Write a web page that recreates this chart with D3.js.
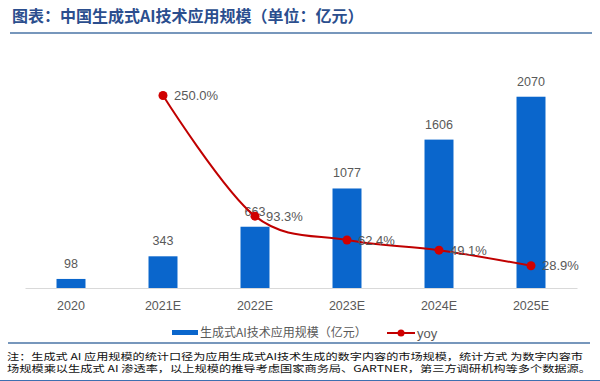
<!DOCTYPE html>
<html>
<head>
<meta charset="utf-8">
<script src="https://cdn.jsdelivr.net/npm/d3@7"></script>
<style>
  body { margin: 0; background: #fff; }
  svg { display: block; }
</style>
</head>
<body>
<script>
/*chart data*/
var categories = ["2020", "2021E", "2022E", "2023E", "2024E", "2025E"];
var scaleValues = [98, 343, 663, 1077, 1606, 2070];
var yoyValues = [null, 250.0, 93.3, 62.4, 49.1, 28.9];
var titleText = "图表：中国生成式AI技术应用规模（单位：亿元）";
var barLegend = "生成式AI技术应用规模（亿元）";
var lineLegend = "yoy";
var notes = [
  "注：生成式 AI 应用规模的统计口径为应用生成式AI技术生成的数字内容的市场规模，统计方式 为数字内容市",
  "场规模乘以生成式 AI 渗透率，以上规模的推导考虑国家商务局、GARTNER，第三方调研机构等多个数据源。"
];

var width = 600, height = 381;
var cjk = "'Noto Sans CJK SC', 'Noto Sans', sans-serif";
var latin = "'Liberation Sans', Arial, sans-serif";
var textColor = "#595959";

var svg = d3.select("body").append("svg")
  .attr("width", width)
  .attr("height", height);

/*title and underline*/
svg.append("text")
  .attr("x", 12)
  .attr("y", 22)
  .style("font-family", cjk)
  .style("font-size", "16px")
  .style("font-weight", "bold")
  .style("fill", "#2b4e8e")
  .text(titleText);

svg.append("line")
  .attr("x1", 10).attr("x2", 592)
  .attr("y1", 33).attr("y2", 33)
  .attr("stroke", "#4a74a6")
  .attr("stroke-width", 1.5);

/*scales*/
var x = d3.scaleBand()
  .domain(categories)
  .range([25, 577])
  .paddingInner(0.685)
  .paddingOuter(0.3425);

var yLeft = d3.scaleLinear().domain([0, 2500]).range([288, 57]);
var yRight = d3.scaleLinear().domain([0, 300]).range([288, 57]);

/*bars*/
svg.selectAll(".bar")
  .data(categories)
  .enter()
  .append("rect")
    .attr("class", "bar")
    .attr("x", d => x(d))
    .attr("y", (d, i) => yLeft(scaleValues[i]))
    .attr("width", x.bandwidth())
    .attr("height", (d, i) => yLeft(0) - yLeft(scaleValues[i]))
    .style("fill", "#0a66cc");

/*x axis*/
var xAxis = svg.append("g")
  .attr("transform", `translate(0, ${yLeft(0)})`)
  .call(d3.axisBottom(x).tickSize(0).tickPadding(13));
xAxis.select(".domain").attr("stroke", "#d9d9d9");
xAxis.selectAll("text")
  .style("font-family", latin)
  .style("font-size", "12.5px")
  .style("fill", textColor);

/*bar value labels*/
svg.selectAll(".barLabel")
  .data(categories)
  .enter()
  .append("text")
    .attr("class", "barLabel")
    .attr("x", d => x(d) + x.bandwidth() / 2)
    .attr("y", (d, i) => yLeft(scaleValues[i]) - 11)
    .attr("text-anchor", "middle")
    .style("font-family", latin)
    .style("font-size", "12.5px")
    .style("fill", textColor)
    .text((d, i) => scaleValues[i]);

/*yoy line*/
var yoyData = categories
  .map((c, i) => ({cat: c, v: yoyValues[i]}))
  .filter(d => d.v != null);

var line = d3.line()
  .x(d => x(d.cat) + x.bandwidth() / 2)
  .y(d => yRight(d.v))
  .curve(d3.curveCatmullRom.alpha(0));

svg.append("path")
  .datum(yoyData)
  .attr("d", line)
  .attr("fill", "none")
  .attr("stroke", "#c00000")
  .attr("stroke-width", 2);

svg.selectAll(".yoyDot")
  .data(yoyData)
  .enter()
  .append("circle")
    .attr("class", "yoyDot")
    .attr("cx", d => x(d.cat) + x.bandwidth() / 2)
    .attr("cy", d => yRight(d.v))
    .attr("r", 4.5)
    .style("fill", "#d00000");

svg.selectAll(".yoyLabel")
  .data(yoyData)
  .enter()
  .append("text")
    .attr("class", "yoyLabel")
    .attr("x", d => x(d.cat) + x.bandwidth() / 2 + 11)
    .attr("y", d => yRight(d.v))
    .attr("dy", "0.35em")
    .style("font-family", latin)
    .style("font-size", "13px")
    .style("fill", textColor)
    .text(d => d.v.toFixed(1) + "%");

/*legend*/
var legend = svg.append("g").attr("transform", "translate(0, 333)");
legend.append("rect")
  .attr("x", 172).attr("y", -3)
  .attr("width", 26).attr("height", 5)
  .style("fill", "#0a66cc");
legend.append("text")
  .attr("x", 200).attr("y", 0)
  .attr("dy", "0.35em")
  .style("font-family", cjk)
  .style("font-size", "12px")
  .style("fill", textColor)
  .text(barLegend);
legend.append("line")
  .attr("x1", 387).attr("x2", 415)
  .attr("y1", 0).attr("y2", 0)
  .attr("stroke", "#c00000")
  .attr("stroke-width", 2);
legend.append("circle")
  .attr("cx", 401).attr("cy", 0).attr("r", 3.5)
  .style("fill", "#d00000");
legend.append("text")
  .attr("x", 417).attr("y", 0)
  .attr("dy", "0.35em")
  .style("font-family", latin)
  .style("font-size", "13px")
  .style("fill", textColor)
  .text(lineLegend);

/*separator and notes (small font stretched wide, like the squat source glyphs)*/
svg.append("line")
  .attr("x1", 8).attr("x2", 590)
  .attr("y1", 343).attr("y2", 343)
  .attr("stroke", "#4a74a6")
  .attr("stroke-width", 1.5);

svg.selectAll(".note")
  .data(notes)
  .enter()
  .append("text")
    .attr("class", "note")
    .attr("x", 7)
    .attr("y", (d, i) => 359.5 + i * 12.5)
    .attr("textLength", (d, i) => i == 0 ? 576 : 584)
    .attr("lengthAdjust", "spacingAndGlyphs")
    .style("font-family", cjk)
    .style("font-size", "9.5px")
    .style("fill", "#111")
    .text(d => d);

svg.append("line")
  .attr("x1", 0).attr("x2", 600)
  .attr("y1", 380.5).attr("y2", 380.5)
  .attr("stroke", "#3d6fb0")
  .attr("stroke-width", 1);
</script>
</body>
</html>
